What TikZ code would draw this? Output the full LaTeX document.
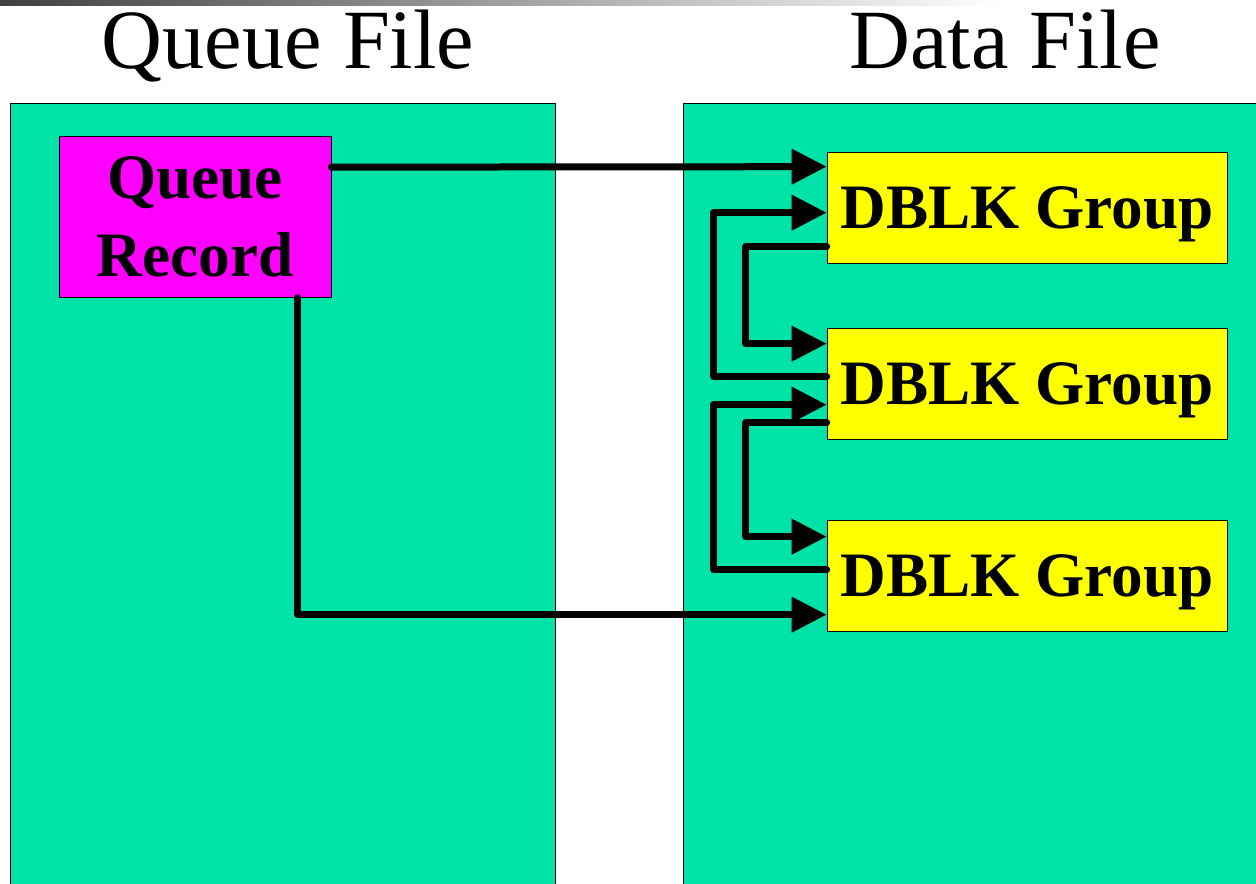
\documentclass[tikz,border=0pt]{standalone}
\usepackage{fontspec}
\setmainfont{Liberation Serif}
\usetikzlibrary{calc,arrows.meta}
\definecolor{sea}{RGB}{0,227,168}
\definecolor{pink}{RGB}{255,0,255}
\definecolor{lemon}{RGB}{255,255,0}
\definecolor{bar}{RGB}{64,64,64}

\begin{document}
\begin{tikzpicture}[x=0.02cm,y=0.02cm,
  flow/.style={line width=0.14cm,line join=round,line cap=round,
    -{Triangle[length=0.7cm,width=0.68cm]}},
  group/.style={draw=black,thin,fill=lemon,minimum width=8cm,minimum height=2.22cm,
    inner sep=0pt,text depth=0pt,font=\fontsize{36}{44}\selectfont\bfseries},
  title/.style={anchor=base,font=\fontsize{48}{56}\selectfont}]
  \useasboundingbox (0,0) rectangle (1256,-883);
  \clip (0,0) rectangle (1256,-883);

  % background
  \shade [left color=bar,right color=white] (0,0) rectangle (1000,-5);
  \filldraw [fill=sea,draw=black,thin] (10,-103) rectangle (555,-900);
  \filldraw [fill=sea,draw=black,thin] (683,-103) rectangle (1270,-900);

  \node [title] (qf) at (288,-68) {Queue File};
  \node [title] (df) at (1005,-68) {Data File};

  \node [draw=black,thin,fill=pink,minimum width=5.44cm,minimum height=3.22cm,
    inner sep=0pt,align=center,font=\fontsize{36}{44}\selectfont\bfseries]
    (qr) at (195,-217) {Queue\\Record};

  \node [group] (d1) at (1027,-207.5) {DBLK Group};
  \node [group] (d2) at (1027,-383.5) {DBLK Group};
  \node [group] (d3) at (1027,-575.5) {DBLK Group};

  \draw [flow] ($(qr.north east)+(0,-31)$) -- ($(d1.north west)+(0,-15)$);
  \draw [flow] ($(qr.south west)+(239,0)$) |- ($(d3.north west)+(0,-95)$);

  \draw [flow] ($(d2.north west)+(0,-49)$) -- ++(-113,0) |- ($(d1.north west)+(0,-61)$);
  \draw [flow] ($(d1.north west)+(0,-95)$) -- ++(-81,0) |- ($(d2.north west)+(0,-16)$);
  \draw [flow] ($(d3.north west)+(0,-50)$) -- ++(-113,0) |- ($(d2.north west)+(0,-77)$);
  \draw [flow] ($(d2.north west)+(0,-95)$) -- ++(-81,0) |- ($(d3.north west)+(0,-17)$);
\end{tikzpicture}
\end{document}
